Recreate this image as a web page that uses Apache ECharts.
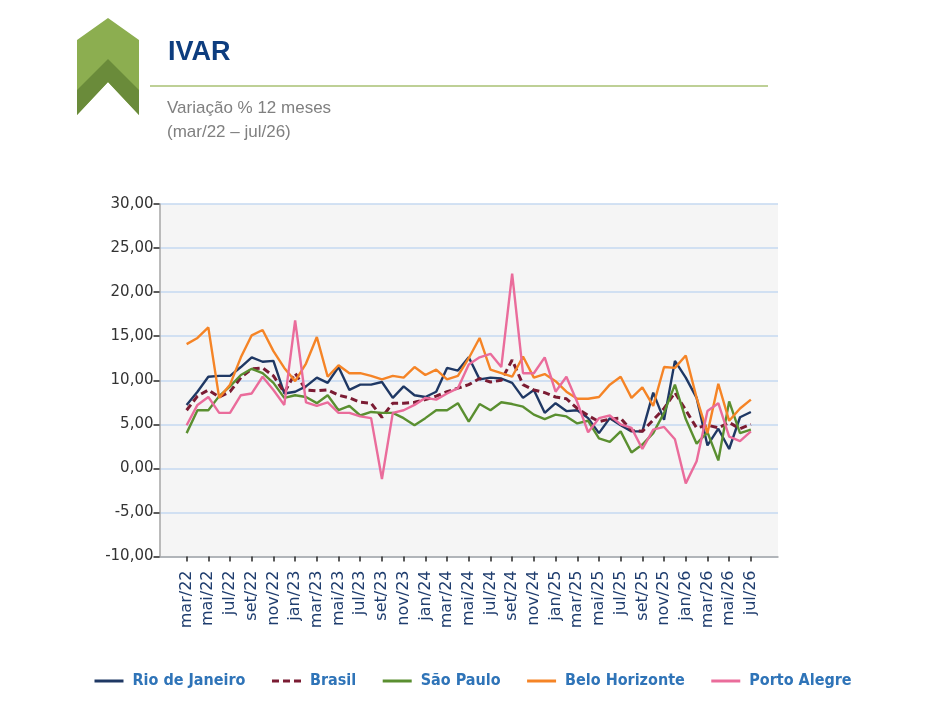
<!DOCTYPE html>
<html>
<head>
<meta charset="utf-8">
<script src="https://cdn.jsdelivr.net/npm/echarts@6/dist/echarts.min.js"></script>
<style>
html,body{margin:0;padding:0;background:#fff;}
#chart{width:925px;height:713px;}
</style>
</head>
<body>
<div id="chart"></div>
<script>
var months = ['mar/22','abr/22','mai/22','jun/22','jul/22','ago/22','set/22','out/22','nov/22','dez/22',
  'jan/23','fev/23','mar/23','abr/23','mai/23','jun/23','jul/23','ago/23','set/23','out/23','nov/23','dez/23',
  'jan/24','fev/24','mar/24','abr/24','mai/24','jun/24','jul/24','ago/24','set/24','out/24','nov/24','dez/24',
  'jan/25','fev/25','mar/25','abr/25','mai/25','jun/25','jul/25','ago/25','set/25','out/25','nov/25','dez/25',
  'jan/26','fev/26','mar/26','abr/26','mai/26','jun/26','jul/26'];

var rioDeJaneiro = [7.2, 8.7, 10.4, 10.5, 10.5, 11.5, 12.6, 12.1, 12.2, 8.5, 8.7, 9.3, 10.3, 9.7, 11.5, 8.9, 9.5, 9.5, 9.8, 8.0, 9.3, 8.3, 8.1, 8.7, 11.4, 11.1, 12.6, 10.1, 10.3, 10.2, 9.7, 8.0, 8.9, 6.3, 7.4, 6.5, 6.6, 5.7, 4.0, 5.7, 4.9, 4.2, 4.2, 8.6, 5.5, 12.2, 10.3, 8.0, 2.6, 4.5, 2.2, 5.8, 6.4];
var brasil = [6.6, 8.2, 8.9, 8.1, 8.7, 10.3, 11.3, 11.4, 10.5, 8.6, 10.8, 8.9, 8.8, 8.9, 8.3, 8.0, 7.5, 7.4, 5.8, 7.4, 7.4, 7.5, 7.8, 8.2, 8.7, 9.1, 9.5, 10.2, 9.8, 10.0, 12.3, 9.5, 8.9, 8.6, 8.1, 7.9, 6.8, 6.0, 5.3, 5.6, 5.7, 4.3, 4.2, 5.5, 6.8, 8.6, 6.6, 4.6, 4.9, 4.6, 5.2, 4.5, 5.0];
var saoPaulo = [4.0, 6.6, 6.6, 8.2, 9.3, 10.6, 11.3, 10.8, 9.7, 8.0, 8.3, 8.1, 7.4, 8.3, 6.6, 7.1, 6.0, 6.4, 6.3, 6.3, 5.7, 4.9, 5.7, 6.6, 6.6, 7.4, 5.3, 7.3, 6.6, 7.5, 7.3, 7.0, 6.1, 5.6, 6.1, 5.9, 5.1, 5.4, 3.4, 3.0, 4.2, 1.8, 2.7, 4.0, 6.3, 9.5, 5.6, 2.8, 4.1, 0.9, 7.6, 4.0, 4.4];
var beloHorizonte = [14.1, 14.8, 16.0, 8.0, 9.5, 12.6, 15.1, 15.7, 13.3, 11.4, 9.9, 11.9, 14.9, 10.4, 11.7, 10.8, 10.8, 10.5, 10.1, 10.5, 10.3, 11.5, 10.6, 11.2, 10.1, 10.5, 12.5, 14.8, 11.2, 10.8, 10.4, 12.7, 10.3, 10.7, 9.9, 8.7, 7.9, 7.9, 8.1, 9.5, 10.4, 8.0, 9.2, 7.1, 11.5, 11.4, 12.8, 8.0, 4.0, 9.6, 5.4, 6.8, 7.8];
var portoAlegre = [4.9, 7.2, 8.1, 6.3, 6.3, 8.3, 8.5, 10.4, 8.9, 7.2, 16.8, 7.5, 7.1, 7.5, 6.3, 6.3, 5.9, 5.7, -1.2, 6.3, 6.6, 7.2, 8.0, 7.8, 8.5, 9.1, 11.8, 12.6, 13.0, 11.5, 22.1, 10.8, 10.8, 12.6, 8.7, 10.4, 7.5, 4.1, 5.7, 6.0, 5.0, 4.6, 2.2, 4.4, 4.7, 3.3, -1.7, 0.8, 6.5, 7.4, 3.6, 3.1, 4.2];

var seriesNames = ['Rio de Janeiro', 'Brasil', 'São Paulo', 'Belo Horizonte', 'Porto Alegre'];
var seriesValues = [rioDeJaneiro, brasil, saoPaulo, beloHorizonte, portoAlegre];
var seriesColors = ['#1f3864', '#7b1c33', '#5a8f30', '#f58426', '#ea6c9b'];

var PAD = 2;
var padCats = [];
for (var p = 0; p < PAD; p++) padCats.push(' '.repeat(p + 1));
var cats = padCats.concat(months).concat(padCats.map(function (s) { return s + '  '; }));
function padData(arr) {
  var out = [];
  for (var k = 0; k < PAD; k++) out.push(null);
  out = out.concat(arr);
  for (var k2 = 0; k2 < PAD; k2++) out.push(null);
  return out;
}
function showIdx(idx) {
  return idx >= PAD && idx < PAD + months.length && (idx - PAD) % 2 === 0;
}

var series = seriesNames.map(function (name, i) {
  return {
    name: name,
    type: 'line',
    data: padData(seriesValues[i]),
    symbol: 'none',
    smooth: false,
    z: 2 + i,
    lineStyle: {
      color: seriesColors[i],
      width: i === 1 ? 3 : 2.4,
      type: i === 1 ? [7, 4] : 'solid'
    },
    itemStyle: { color: seriesColors[i] }
  };
});

var chart = echarts.init(document.getElementById('chart'), null, { renderer: 'canvas' });
chart.setOption({
  animation: false,
  backgroundColor: '#ffffff',
  grid: {
    left: 159.5, right: 147, top: 204, bottom: 156.5,
    show: true, backgroundColor: '#f5f5f5', borderWidth: 0
  },
  xAxis: {
    type: 'category',
    data: cats,
    boundaryGap: true,
    axisLine: { show: true, onZero: false, lineStyle: { color: '#a6a6a6', width: 1.5 } },
    axisTick: {
      show: true, alignWithLabel: true, length: 5, inside: false,
      interval: function (idx) { return showIdx(idx); },
      lineStyle: { color: '#262626', width: 1.5 }
    },
    axisLabel: {
      interval: function (idx) { return showIdx(idx); },
      rotate: 90, margin: 14,
      color: '#1f3d6e', fontSize: 16, fontFamily: 'DejaVu Sans'
    },
    splitLine: { show: false }
  },
  yAxis: {
    type: 'value',
    min: -10, max: 30, interval: 5,
    axisLine: { show: true, lineStyle: { color: '#a6a6a6', width: 1.5 } },
    axisTick: { show: true, length: 6, lineStyle: { color: '#262626', width: 1.5 } },
    axisLabel: {
      formatter: function (v) { return v.toFixed(2).replace('.', ','); },
      color: '#333333', fontSize: 15, fontFamily: 'DejaVu Sans', margin: 6
    },
    splitLine: { show: true, lineStyle: { color: '#c5d9f1', width: 1.5 } }
  },
  legend: {
    left: 93, top: 673, padding: 0,
    itemWidth: 29, itemHeight: 14, itemGap: 25,
    itemStyle: { opacity: 0 },
    lineStyle: { width: 3 },
    textStyle: {
      color: '#2f74b8', fontSize: 16, fontWeight: 'bold',
      fontFamily: '"DejaVu Sans Condensed", "Liberation Sans Narrow", sans-serif',
      padding: [0, 0, 0, 4]
    },
    data: seriesNames
  },
  graphic: [
    { type: 'polygon', shape: { points: [[77,40],[108,18],[139,40],[139,115],[108,82],[77,115]] }, style: { fill: '#8cae50' } },
    { type: 'polygon', shape: { points: [[77,90],[108,59],[139,90],[139,115],[108,82],[77,115]] }, style: { fill: '#6a8b3a' } },
    { type: 'text', left: 168, top: 39, style: { text: 'IVAR', fill: '#0d3d7f', font: 'bold 27px "Liberation Sans", Arial, sans-serif' } },
    { type: 'line', shape: { x1: 150, y1: 86, x2: 768, y2: 86 }, style: { stroke: '#a9c173', lineWidth: 1.5 } },
    { type: 'text', left: 167, top: 100, style: { text: 'Variação % 12 meses', fill: '#808080', font: '17px "Liberation Sans", Arial, sans-serif' } },
    { type: 'text', left: 167, top: 124, style: { text: '(mar/22 – jul/26)', fill: '#808080', font: '17px "Liberation Sans", Arial, sans-serif' } }
  ],
  series: series
});
</script>
</body>
</html>
